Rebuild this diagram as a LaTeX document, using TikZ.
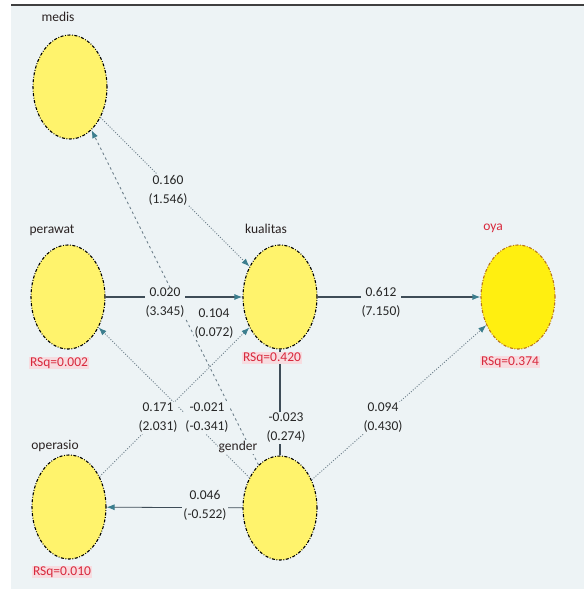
\documentclass[tikz,border=0pt]{standalone}
\usepackage{fontspec}
\setmainfont{Carlito}
\usetikzlibrary{arrows.meta,shapes.geometric}
\definecolor{bgc}{HTML}{EDF3F5}
\definecolor{yel}{HTML}{FFF36C}
\definecolor{yelb}{HTML}{FFEF10}
\definecolor{linec}{HTML}{3E4C57}
\definecolor{dotcol}{HTML}{6E808C}
\definecolor{arrc}{HTML}{3C7E8E}
\definecolor{rsqc}{HTML}{D8283C}
\definecolor{rsqfill}{HTML}{F7DCE0}
\definecolor{nmc}{HTML}{2A2222}
\definecolor{oyab}{HTML}{B8741C}
\tikzset{
  construct/.style={ellipse, draw=black, line width=1.1pt,
    dash pattern=on 3pt off 1.6pt on 0.8pt off 1.6pt,
    fill=yel, minimum width=74pt, minimum height=104pt, inner sep=0pt},
  txt/.style={font=\fontsize{13.5}{19}\selectfont},
  namelbl/.style={txt, text=nmc, fill=bgc, inner sep=1pt},
  rsq/.style={txt, text=rsqc, fill=rsqfill, inner sep=1pt},
  plabel/.style={txt, fill=bgc, align=center, inner sep=1pt, text=black!85},
  solidln/.style={draw=linec, line width=1.1pt},
  dotln/.style={draw=dotcol, line width=0.9pt, dash pattern=on 1pt off 1.6pt},
  dashln/.style={draw=dotcol, line width=0.9pt, dash pattern=on 2.5pt off 3pt},
  arr/.style={-{Latex[length=8pt,width=6pt,color=arrc]}}
}
\begin{document}
\begin{tikzpicture}[x=1pt,y=-1pt]
\useasboundingbox (0,0) rectangle (584,589);
\fill[white] (0,0) rectangle (584,589);
\fill[bgc] (11,6) rectangle (584,589);
\draw[black!75, line width=2pt] (11,5) -- (584,5);

% constructs
\node[construct] (medis) at (70,87) {};
\node[construct] (perawat) at (68,297) {};
\node[construct] (operasio) at (69,507) {};
\node[construct] (kualitas) at (280,297) {};
\node[construct, fill=yelb, draw=oyab] (oya) at (518,297) {};
\node[construct] (gender) at (280,508) {};

% connectors
\draw[solidln, arr] (perawat) -- (kualitas);
\draw[solidln, arr] (kualitas) -- (oya);
\draw[solidln] (gender) -- (kualitas);
\draw[draw=linec, line width=0.8pt, arr] (gender) -- (operasio);
\draw[dotln, arr] (medis) -- (kualitas);
\draw[dashln, arr] (gender) -- (medis);
\draw[dotln, arr] (gender) -- (perawat);
\draw[dotln, arr] (operasio) -- (kualitas);
\draw[dotln, arr] (gender) -- (oya);

% path labels
\node[plabel] (l160) at (168,190) {0.160\\(1.546)};
\node[plabel] (l104) at (214,324) {0.104\\(0.072)};
\node[plabel] (l020) at (165,303) {0.020\\(3.345)};
\node[plabel] (l612) at (381,302) {0.612\\(7.150)};
\node[plabel] (l171) at (158,418) {0.171\\(2.031)};
\node[plabel] (l021) at (207,418) {-0.021\\(-0.341)};
\node[plabel] (l094) at (383,418) {0.094\\(0.430)};
\node[plabel] (l023) at (286,428) {-0.023\\(0.274)};
\node[plabel] (l046) at (205,505) {0.046\\(-0.522)};

% construct names
\node[namelbl] (nmedis) at (58,17) {medis};
\node[namelbl] (nperawat) at (52,230) {perawat};
\node[namelbl] (noperasio) at (55,446) {operasio};
\node[namelbl] (nkualitas) at (266,229) {kualitas};
\node[namelbl, text=rsqc] (noya) at (493,228) {oya};
\node[namelbl] (ngender) at (238,447) {gender};

% R squared
\node[rsq] (rperawat) at (59,363) {RSq=0.002};
\node[rsq] (roperasio) at (62,572) {RSq=0.010};
\node[rsq] (rkualitas) at (272,358) {RSq=0.420};
\node[rsq] (roya) at (510,362) {RSq=0.374};
\end{tikzpicture}
\end{document}
